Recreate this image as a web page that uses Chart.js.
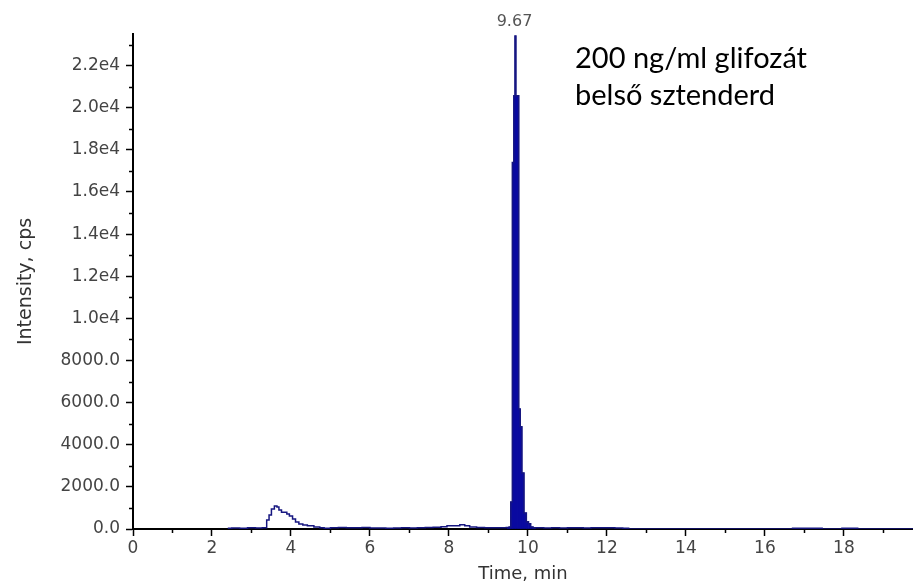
<!DOCTYPE html>
<html>
<head>
<meta charset="utf-8">
<script src="https://cdn.jsdelivr.net/npm/chart.js@4"></script>
<style>
html,body{margin:0;padding:0;background:#fff;}
canvas{display:block;}
</style>
</head>
<body>
<canvas id="c" width="913" height="585"></canvas>
<script>
// Retention time (min) and intensity (cps)
const times = [
  2.4, 2.6, 2.8, 3.0, 3.2, 3.35, 3.42, 3.47, 3.54, 3.62,
  3.67, 3.72, 3.8, 3.87, 3.92, 4.0, 4.08, 4.15, 4.25, 4.35,
  4.48, 4.68, 4.78, 4.9, 5.1, 5.3, 5.5, 5.7, 5.9, 6.1,
  6.3, 6.5, 6.7, 6.9, 7.1, 7.3, 7.5, 7.7, 7.9, 8.0,
  8.2, 8.35, 8.45, 8.6, 8.8, 9.0, 9.2, 9.4, 9.5, 9.545,
  9.585, 9.625, 9.66, 9.685, 9.705, 9.75, 9.785, 9.825, 9.87, 9.93,
  9.99, 10.04, 10.1, 10.16, 10.3, 10.5, 10.7, 10.9, 11.1, 11.3,
  11.5, 11.7, 11.9, 12.1, 12.3, 12.5, 12.6, 14.0, 16.0, 17.4,
  17.5, 17.6, 18.3, 18.4, 19.0, 19.75
];
const intensity = [
  30, 50, 40, 55, 45, 60, 430, 660, 950, 1090,
  1040, 900, 800, 790, 710, 620, 480, 330, 240, 190,
  150, 90, 60, 40, 60, 70, 65, 60, 70, 45,
  50, 40, 45, 55, 50, 60, 70, 80, 110, 150,
  160, 200, 150, 90, 70, 60, 55, 60, 70, 90,
  1280, 17400, 20570, 23400, 20570, 20570, 5700, 4850, 2660, 760,
  350, 250, 100, 60, 60, 50, 60, 50, 55, 60,
  50, 55, 60, 55, 50, 40, 0, 0, 0, 30,
  0, 0, 30, 0, 0, 0
];
const peakRange = [9.5, 10.16];
const peakLabel = "9.67";
const xTickValues = [0, 2, 4, 6, 8, 10, 12, 14, 16, 18];
const yTickValues = [0, 2000, 4000, 6000, 8000, 10000, 12000, 14000, 16000, 18000, 20000, 22000];
const noteLines = ["200 ng/ml glifozát", "belső sztenderd"];

const allPts = times.map((t, i) => ({x: t, y: intensity[i]}));
const peakPts = allPts.filter(p => p.x >= peakRange[0] && p.x <= peakRange[1]);

function fmtY(v) {
  if (v < 10000) return v.toFixed(1);
  return (v / 10000).toFixed(1) + 'e4';
}

const extras = {
  id: 'extras',
  afterDraw(chart) {
    const ctx = chart.ctx;
    const xs = chart.scales.x, ys = chart.scales.y;
    const ca = chart.chartArea;
    ctx.save();
    ctx.strokeStyle = '#000';
    ctx.lineWidth = 1.5;
    ctx.beginPath();
    for (let v = 1; v < 19.75; v += 2) {
      const px = Math.round(xs.getPixelForValue(v)) + 0.5;
      ctx.moveTo(px, ca.bottom);
      ctx.lineTo(px, ca.bottom + 4);
    }
    for (let v = 1000; v < 23500; v += 2000) {
      const py = Math.round(ys.getPixelForValue(v)) + 0.5;
      ctx.moveTo(ca.left, py);
      ctx.lineTo(ca.left - 4, py);
    }
    ctx.stroke();
    let mi = 0;
    intensity.forEach((v, i) => { if (v > intensity[mi]) mi = i; });
    const cx = xs.getPixelForValue(times[mi]);
    const cy = ys.getPixelForValue(intensity[mi]);
    ctx.fillStyle = '#555';
    ctx.font = '16px "DejaVu Sans"';
    ctx.textAlign = 'center';
    ctx.textBaseline = 'alphabetic';
    ctx.fillText(peakLabel, cx - 1, cy - 10);
    ctx.fillStyle = '#000';
    ctx.font = '29px Lato';
    ctx.textAlign = 'left';
    ctx.fillText(noteLines[0], 575, 68);
    ctx.fillText(noteLines[1], 575, 105);
    ctx.restore();
  }
};

new Chart(document.getElementById('c'), {
  type: 'line',
  data: {
    datasets: [
      {
        type: 'line',
        data: allPts,
        stepped: 'middle',
        borderColor: '#161680',
        borderWidth: 1.5,
        pointRadius: 0,
        fill: false,
        order: 0
      },
      {
        type: 'bar',
        data: peakPts,
        backgroundColor: '#0a0aa0',
        borderWidth: 0,
        barThickness: 'flex',
        barPercentage: 1,
        categoryPercentage: 1,
        order: 1
      }
    ]
  },
  options: {
    responsive: false,
    animation: false,
    layout: {padding: {left: 15, top: 34, right: 0, bottom: 0}},
    plugins: {legend: {display: false}, tooltip: {enabled: false}},
    scales: {
      x: {
        type: 'linear',
        min: 0, max: 19.75,
        offset: false,
        afterFit(s) { s.height = 56; },
        afterBuildTicks(s) { s.ticks = xTickValues.map(v => ({value: v})); },
        grid: {drawOnChartArea: false, drawTicks: true, tickLength: 7, tickColor: '#000', tickWidth: 1.5, offset: false},
        border: {color: '#000', width: 2},
        ticks: {
          autoSkip: false, maxRotation: 0, padding: 2,
          color: '#444', font: {family: 'DejaVu Sans', size: 17},
          callback: v => String(v)
        },
        title: {display: true, text: 'Time, min', color: '#333',
                font: {family: 'DejaVu Sans', size: 18}, padding: 0}
      },
      y: {
        type: 'linear',
        min: 0, max: 23500,
        afterFit(s) { s.width = 118; },
        afterBuildTicks(s) { s.ticks = yTickValues.map(v => ({value: v})); },
        grid: {drawOnChartArea: false, drawTicks: true, tickLength: 7, tickColor: '#000', tickWidth: 1.5},
        border: {color: '#000', width: 2},
        ticks: {
          padding: 6,
          color: '#444', font: {family: 'DejaVu Sans', size: 17},
          callback: v => fmtY(v)
        },
        title: {display: true, text: 'Intensity, cps', color: '#333',
                font: {family: 'DejaVu Sans', size: 19}, padding: 0}
      }
    }
  },
  plugins: [extras]
});
</script>
</body>
</html>
